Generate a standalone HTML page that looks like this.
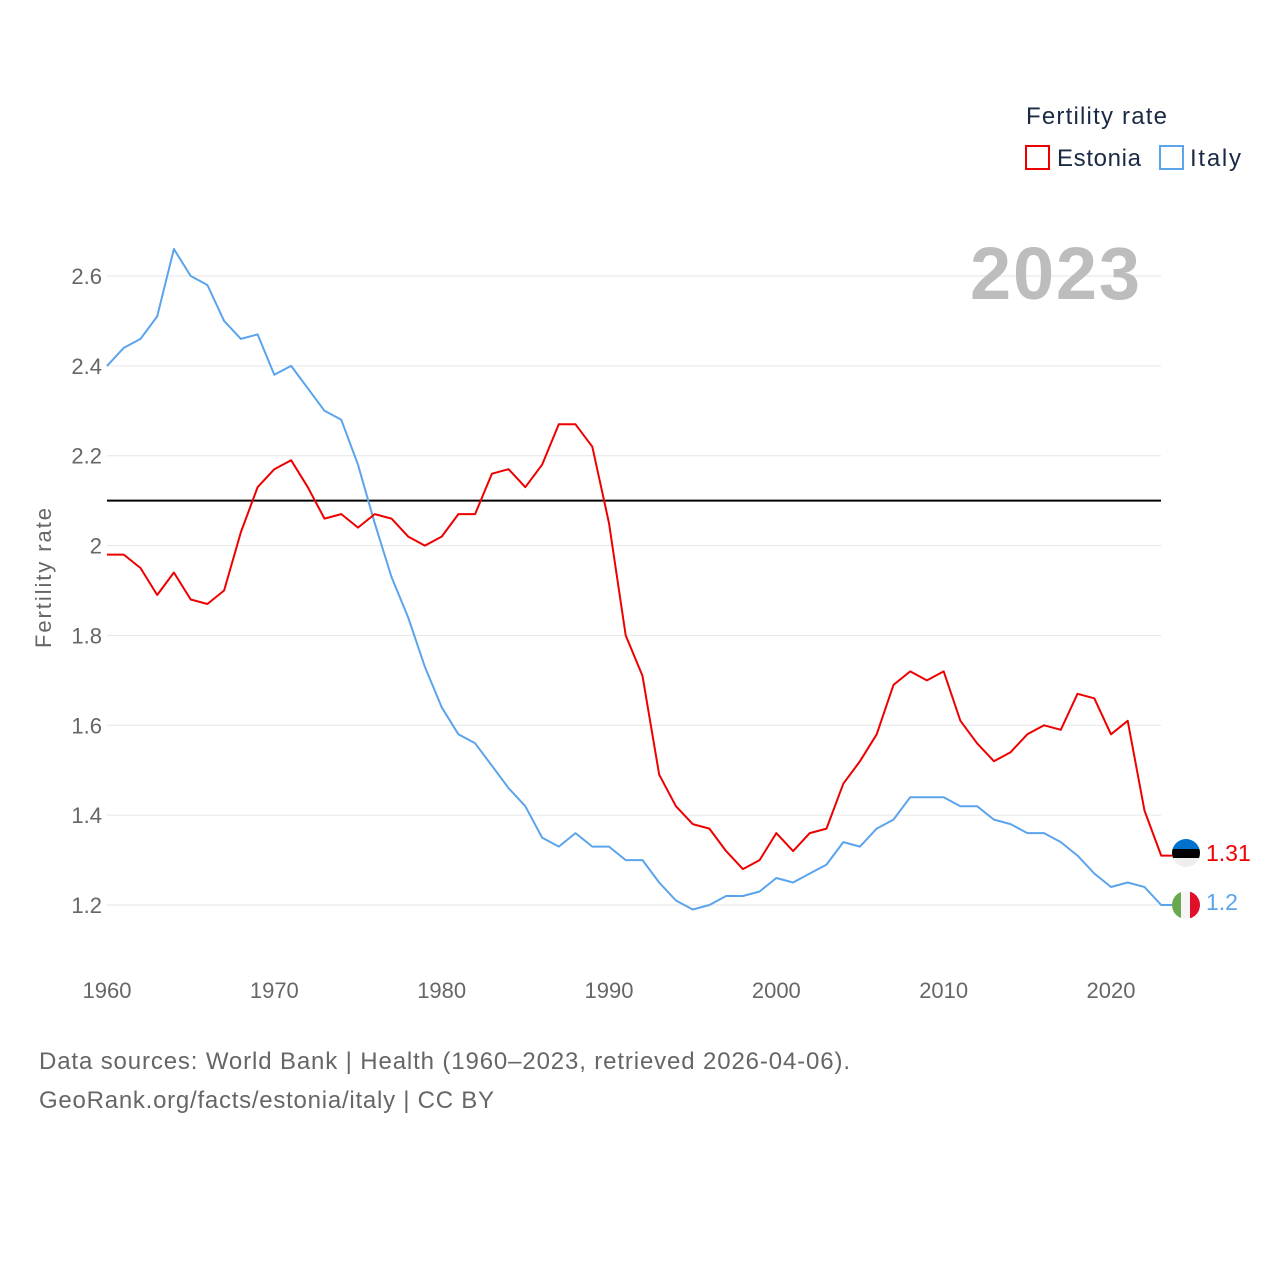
<!DOCTYPE html>
<html><head><meta charset="utf-8"><style>
body{margin:0;background:#fff;font-family:"Liberation Sans",sans-serif}
svg text{font-family:"Liberation Sans",sans-serif}
</style></head><body>
<svg id="chart" width="1280" height="1280" viewBox="0 0 1280 1280" xmlns="http://www.w3.org/2000/svg">
<g id="grid"></g>
<g id="yticks"></g>
<g id="xticks"></g>
<text transform="translate(51,578) rotate(-90)" text-anchor="middle" font-size="22" fill="#666" textLength="140">Fertility rate</text>
<text x="1140" y="299" text-anchor="end" font-size="74" font-weight="bold" fill="#bdbdbd" textLength="170">2023</text>
<g id="series"></g>
<g>
<text x="1026" y="124" font-size="24" fill="#1a2a44" textLength="141">Fertility rate</text>
<rect x="1026" y="146" width="23" height="23" fill="none" stroke="#ee0000" stroke-width="2"/>
<text x="1057" y="166" font-size="24" fill="#1a2a44" textLength="84">Estonia</text>
<rect x="1160" y="146" width="23" height="23" fill="none" stroke="#5ba4ec" stroke-width="2"/>
<text x="1190" y="166" font-size="24" fill="#1a2a44" textLength="51">Italy</text>
</g>
<g>
<clipPath id="c1"><circle cx="1186" cy="853" r="14"/></clipPath>
<g clip-path="url(#c1)"><rect x="1172" y="839" width="28" height="10" fill="#0072ce"/><rect x="1172" y="849" width="28" height="9" fill="#000"/><rect x="1172" y="858" width="28" height="10" fill="#eee"/></g>
</g>
<g>
<clipPath id="c2"><circle cx="1186" cy="905" r="14"/></clipPath>
<g clip-path="url(#c2)"><rect x="1172" y="891" width="10" height="28" fill="#6aa84f"/><rect x="1181" y="891" width="10" height="28" fill="#f5f5f5"/><rect x="1190" y="891" width="10" height="28" fill="#e0102a"/></g>
</g>
<text x="1206" y="861" font-size="23" fill="#ee0000">1.31</text>
<text x="1206" y="910" font-size="23" fill="#5ba4ec">1.2</text>
<text x="39" y="1069" font-size="24" fill="#666" textLength="811">Data sources: World Bank | Health (1960–2023, retrieved 2026-04-06).</text>
<text x="39" y="1108" font-size="24" fill="#666" textLength="455">GeoRank.org/facts/estonia/italy | CC BY</text>
</svg>
<script>
const startYear = 1960;
const estonia = [1.98,1.98,1.95,1.89,1.94,1.88,1.87,1.90,2.03,2.13,2.17,2.19,2.13,2.06,2.07,2.04,2.07,2.06,2.02,2.00,2.02,2.07,2.07,2.16,2.17,2.13,2.18,2.27,2.27,2.22,2.05,1.80,1.71,1.49,1.42,1.38,1.37,1.32,1.28,1.30,1.36,1.32,1.36,1.37,1.47,1.52,1.58,1.69,1.72,1.70,1.72,1.61,1.56,1.52,1.54,1.58,1.60,1.59,1.67,1.66,1.58,1.61,1.41,1.31];
const italy = [2.40,2.44,2.46,2.51,2.66,2.60,2.58,2.50,2.46,2.47,2.38,2.40,2.35,2.30,2.28,2.18,2.05,1.93,1.84,1.73,1.64,1.58,1.56,1.51,1.46,1.42,1.35,1.33,1.36,1.33,1.33,1.30,1.30,1.25,1.21,1.19,1.20,1.22,1.22,1.23,1.26,1.25,1.27,1.29,1.34,1.33,1.37,1.39,1.44,1.44,1.44,1.42,1.42,1.39,1.38,1.36,1.36,1.34,1.31,1.27,1.24,1.25,1.24,1.20];
const yTicks = [1.2,1.4,1.6,1.8,2,2.2,2.4,2.6];
const xTicks = [1960,1970,1980,1990,2000,2010,2020];
const refValue = 2.1;

const NS = "http://www.w3.org/2000/svg";
const xs = y => 107 + (y - 1960) * (1004 / 60);
const ys = v => 905 - (v - 1.2) * (629 / 1.4);
function mk(tag, attrs, parent){const e=document.createElementNS(NS,tag);for(const k in attrs)e.setAttribute(k,attrs[k]);parent.appendChild(e);return e;}
const grid=document.getElementById('grid'), yt=document.getElementById('yticks'), xt=document.getElementById('xticks'), ser=document.getElementById('series');
yTicks.forEach(v=>{
  const l=mk('line',{x1:107,x2:1161,y1:ys(v),y2:ys(v),stroke:'#e6e6e6','stroke-width':1},grid);
  
  
  const t=mk('text',{x:102,y:ys(v)+8,'text-anchor':'end','font-size':22,fill:'#666'},yt);
  t.textContent=String(v);
  
  
});
xTicks.forEach(y=>{
  const t=mk('text',{x:xs(y),y:998,'text-anchor':'middle','font-size':22,fill:'#666'},xt);
  t.textContent=String(y);
  
  
});
const ref=mk('line',{x1:107,x2:1161,y1:ys(refValue),y2:ys(refValue),stroke:'#000','stroke-width':2},ser);


function line(data,color,name){
  const n=data.length-1;
  let d=data.map((v,i)=>(i?'L':'M')+xs(startYear+i).toFixed(1)+','+ys(v).toFixed(1)).join('');
  d+='L'+(xs(startYear+n)+11).toFixed(1)+','+ys(data[n]).toFixed(1);
  const p=mk('path',{d:d,fill:'none',stroke:color,'stroke-width':2,'stroke-linejoin':'round'},ser);
  
  
}
line(italy,'#5ba4ec','italy-line');
line(estonia,'#ee0000','estonia-line');
</script>
</body></html>
